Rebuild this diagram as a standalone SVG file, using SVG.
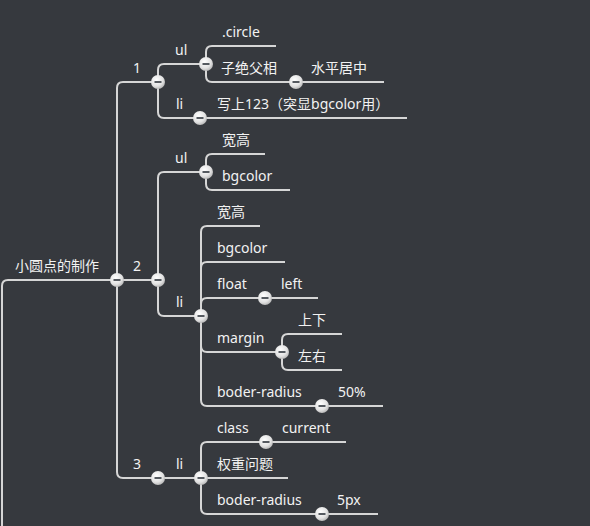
<svg xmlns="http://www.w3.org/2000/svg" width="590" height="526" viewBox="0 0 590 526">
<defs>
<radialGradient id="bg" cx="0.4" cy="0.35" r="0.75">
<stop offset="0" stop-color="#ffffff"/>
<stop offset="0.6" stop-color="#e2e2e2"/>
<stop offset="1" stop-color="#a9a9a9"/>
</radialGradient>
<g id="btn">
<circle r="7" fill="url(#bg)"/>
<rect x="-3.5" y="-1" width="7" height="2" fill="#555a60"/>
</g>
</defs>
<style>
text{font-family:"Noto Sans","Open Sans","Noto Sans CJK SC",sans-serif;font-size:14px;fill:#f2f2f2}
.c path{fill:none;stroke:#d6d6d6;stroke-width:2}
</style>
<rect width="590" height="526" fill="#36393e"/>
<g class="c" id="connectors">
<path d="M2,526 V286 Q2,280 8,280 H117"/>
<path d="M117,280 V88 Q117,82 123,82 H158"/>
<path d="M117,280 H158"/>
<path d="M117,280 V472 Q117,478 123,478 H158"/>
<path d="M158,82 V70 Q158,64 164,64 H206"/>
<path d="M158,82 V112 Q158,118 164,118 H200"/>
<path d="M206,64 V52 Q206,46 212,46 H276"/>
<path d="M206,64 V76 Q206,82 212,82 H296"/>
<path d="M296,82 H384"/>
<path d="M200,118 H407"/>
<path d="M158,280 V178 Q158,172 164,172 H206"/>
<path d="M158,280 V310 Q158,316 164,316 H201"/>
<path d="M206,172 V160 Q206,154 212,154 H265"/>
<path d="M206,172 V184 Q206,190 212,190 H290"/>
<path d="M201,316 V232 Q201,226 207,226 H260"/>
<path d="M201,316 V268 Q201,262 207,262 H285"/>
<path d="M201,316 V304 Q201,298 207,298 H265"/>
<path d="M201,316 V346 Q201,352 207,352 H282"/>
<path d="M201,316 V400 Q201,406 207,406 H322"/>
<path d="M265,298 H318"/>
<path d="M282,352 V340 Q282,334 288,334 H342"/>
<path d="M282,352 V364 Q282,370 288,370 H342"/>
<path d="M322,406 H383"/>
<path d="M158,478 H201"/>
<path d="M201,478 V448 Q201,442 207,442 H266"/>
<path d="M201,478 H288"/>
<path d="M201,478 V508 Q201,514 207,514 H322"/>
<path d="M266,442 H346"/>
<path d="M322,514 H378"/>
</g>
<g id="root"><text x="15" y="271">小圆点的制作</text><use href="#btn" x="117" y="280"/></g>
<g id="n1"><text x="133" y="73">1</text><use href="#btn" x="158" y="82"/></g>
<g id="n1-ul"><text x="175" y="55">ul</text><use href="#btn" x="206" y="64"/></g>
<g id="n1-ul-circle"><text x="222" y="37">.circle</text></g>
<g id="n1-ul-zjfx"><text x="221" y="73">子绝父相</text><use href="#btn" x="296" y="82"/></g>
<g id="n1-ul-spjz"><text x="311" y="73">水平居中</text></g>
<g id="n1-li"><text x="176" y="109">li</text><use href="#btn" x="200" y="118"/></g>
<g id="n1-li-123"><text x="217" y="109">写上123（突显bgcolor用）</text></g>
<g id="n2"><text x="133" y="271">2</text><use href="#btn" x="158" y="280"/></g>
<g id="n2-ul"><text x="175" y="163">ul</text><use href="#btn" x="206" y="172"/></g>
<g id="n2-ul-kg"><text x="222" y="145">宽高</text></g>
<g id="n2-ul-bg"><text x="222" y="181">bgcolor</text></g>
<g id="n2-li"><text x="176" y="307">li</text><use href="#btn" x="201" y="316"/></g>
<g id="n2-li-kg"><text x="217" y="217">宽高</text></g>
<g id="n2-li-bg"><text x="217" y="253">bgcolor</text></g>
<g id="n2-li-float"><text x="217" y="289">float</text><use href="#btn" x="265" y="298"/></g>
<g id="n2-li-left"><text x="281" y="289">left</text></g>
<g id="n2-li-margin"><text x="217" y="343">margin</text><use href="#btn" x="282" y="352"/></g>
<g id="n2-li-sx"><text x="298" y="325">上下</text></g>
<g id="n2-li-zy"><text x="298" y="361">左右</text></g>
<g id="n2-li-br"><text x="217" y="397">boder-radius</text><use href="#btn" x="322" y="406"/></g>
<g id="n2-li-50"><text x="338" y="397">50%</text></g>
<g id="n3"><text x="133" y="469">3</text><use href="#btn" x="158" y="478"/></g>
<g id="n3-li"><text x="176" y="469">li</text><use href="#btn" x="201" y="478"/></g>
<g id="n3-li-class"><text x="217" y="433">class</text><use href="#btn" x="266" y="442"/></g>
<g id="n3-li-current"><text x="282" y="433">current</text></g>
<g id="n3-li-qz"><text x="217" y="469">权重问题</text></g>
<g id="n3-li-br"><text x="217" y="505">boder-radius</text><use href="#btn" x="322" y="514"/></g>
<g id="n3-li-5px"><text x="337" y="505">5px</text></g>
</svg>
